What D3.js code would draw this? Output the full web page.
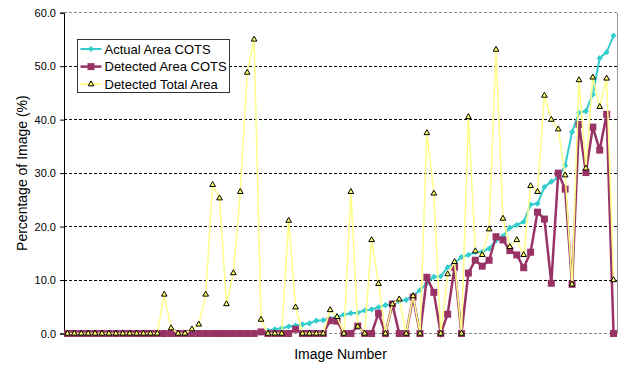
<!DOCTYPE html>
<html>
<head>
<meta charset="utf-8">
<script src="https://cdn.jsdelivr.net/npm/d3@7"></script>
<style>
  body { margin: 0; background: #fff; }
  text { font-family: "Liberation Sans", Arial, sans-serif; fill: #000; }
</style>
</head>
<body>
<div id="chart"></div>
<script>
// values, one per image (80 images)
const actualArea = [
    0, 0, 0, 0, 0, 0, 0, 0, 0, 0, 0, 0, 0, 0, 0, 0, 0, 0, 0, 0,
    0, 0, 0, 0, 0, 0, 0, 0, 0.2, 0.5, 0.8, 1.0, 1.3, 1.5, 1.7, 1.9, 2.4, 2.5, 2.8, 3.1,
    3.5, 3.8, 3.9, 4.3, 4.5, 4.9, 5.3, 5.5, 6.0, 6.3, 7.1, 8.1, 9.4, 10.6, 10.7, 12.4, 13.2, 14.3, 14.7, 15.2,
    15.3, 15.9, 17.4, 18.2, 19.8, 20.3, 20.9, 24.1, 24.3, 27.4, 28.4, 29.2, 31.4, 37.7, 41.3, 41.6, 44.7, 51.5, 52.6, 55.7
];
const detectedArea = [
    0, 0, 0, 0, 0, 0, 0, 0, 0, 0, 0, 0, 0, 0, 0, 0, 0, 0, 0, 0,
    0, 0, 0, 0, 0, 0, 0, 0, 0.3, 0, 0, 0, 0, 0.8, 0, 0, 0, 0, 2.4, 2.3,
    0, 0, 1.4, 0, 0, 3.8, 0, 5.5, 0, 0, 6.8, 0, 10.5, 7.7, 0, 3.6, 12.4, 0, 11.3, 13.7,
    12.6, 13.7, 18.1, 17.5, 15.5, 14.7, 12.3, 15.2, 22.7, 21.4, 9.4, 30.0, 27.0, 9.2, 39.1, 30.1, 38.6, 34.3, 41.0, 0
];
const detectedTotal = [
    0, 0, 0, 0, 0, 0, 0, 0, 0, 0, 0, 0, 0, 0, 7.3, 1.0, 0, 0, 0.8, 1.7,
    7.3, 27.8, 25.3, 5.5, 11.3, 26.5, 48.8, 55.0, 2.6, 0, 0, 0, 21.1, 4.9, 0, 0, 0, 0, 4.4, 3.1,
    0, 26.5, 1.3, 0, 17.5, 9.3, 0, 5.5, 6.4, 0, 7.0, 0, 37.5, 26.2, 0, 11.1, 13.4, 0, 40.5, 15.4,
    14.7, 19.5, 53.1, 21.5, 16.2, 17.5, 14.7, 27.6, 26.5, 44.5, 40.0, 38.2, 29.6, 9.2, 47.4, 30.9, 47.9, 42.4, 47.7, 10.0
];
const yTicks = [0, 10, 20, 30, 40, 50, 60];
const seriesNames = ["Actual Area COTS", "Detected Area COTS", "Detected Total Area"];

// set the dimensions of the picture and the plot area
const width = 627, height = 365;
const plot = { left: 64, right: 617, top: 12.7, bottom: 333.5 };

const svg = d3.select("#chart").append("svg")
    .attr("width", width)
    .attr("height", height);

// set the ranges
const x = d3.scaleBand()
    .domain(d3.range(detectedTotal.length))
    .range([plot.left, plot.right]);
const y = d3.scaleLinear()
    .domain([0, 60])
    .range([plot.bottom, plot.top]);
const cx = i => x(i) + x.bandwidth() / 2;

// gridlines
svg.append("g")
    .selectAll("line")
    .data(yTicks.filter(d => d > 0))
    .enter()
    .append("line")
    .attr("x1", plot.left)
    .attr("x2", plot.right)
    .attr("y1", d => y(d))
    .attr("y2", d => y(d))
    .attr("stroke", d => d === 60 ? "#888" : "#000")
    .attr("stroke-width", 1)
    .attr("stroke-dasharray", "3 2")
    .attr("shape-rendering", "crispEdges");

// right border and bottom line of the plot area
svg.append("line")
    .attr("x1", plot.right).attr("x2", plot.right)
    .attr("y1", plot.top).attr("y2", plot.bottom)
    .attr("stroke", "#999").attr("shape-rendering", "crispEdges");
svg.append("line")
    .attr("x1", plot.left).attr("x2", plot.right)
    .attr("y1", plot.bottom).attr("y2", plot.bottom)
    .attr("stroke", "#888").attr("stroke-dasharray", "3 2")
    .attr("shape-rendering", "crispEdges");

// Y axis
const yAxis = svg.append("g")
    .attr("transform", "translate(" + plot.left + ",0)")
    .call(d3.axisLeft(y).tickValues(yTicks).tickSize(4).tickPadding(4).tickFormat(d3.format(".1f")));
yAxis.select(".domain").attr("stroke", "#000");
yAxis.selectAll(".tick line").attr("stroke", "#000");
yAxis.selectAll("text")
    .style("font-family", "'Liberation Sans', Arial, sans-serif")
    .style("font-size", "11px")
    .attr("fill", "#000");

// lines
const line = d3.line().x((d, i) => cx(i)).y(d => y(d));

svg.append("path")
    .datum(actualArea)
    .attr("fill", "none")
    .attr("stroke", "#33CCCC")
    .attr("stroke-width", 2)
    .attr("d", line);
svg.append("g")
    .selectAll("path")
    .data(actualArea)
    .enter()
    .append("path")
    .attr("transform", (d, i) => "translate(" + cx(i) + "," + y(d) + ")")
    .attr("d", d3.symbol().type(d3.symbolDiamond2).size(24))
    .attr("fill", "#33CCCC");

svg.append("path")
    .datum(detectedArea)
    .attr("fill", "none")
    .attr("stroke", "#993366")
    .attr("stroke-width", 2.5)
    .attr("d", line);
svg.append("g")
    .selectAll("rect")
    .data(detectedArea)
    .enter()
    .append("rect")
    .attr("x", (d, i) => cx(i) - 3.5)
    .attr("y", d => y(d) - 3.5)
    .attr("width", 7)
    .attr("height", 7)
    .attr("fill", "#993366");

svg.append("path")
    .datum(detectedTotal)
    .attr("fill", "none")
    .attr("stroke", "#FFFF88")
    .attr("stroke-width", 1.5)
    .attr("d", line);
svg.append("g")
    .selectAll("path")
    .data(detectedTotal)
    .enter()
    .append("path")
    .attr("transform", (d, i) => "translate(" + cx(i) + "," + y(d) + ")")
    .attr("d", d3.symbol().type(d3.symbolTriangle).size(14))
    .attr("fill", "#FFFF66")
    .attr("stroke", "#000")
    .attr("stroke-width", 1);

// axis titles
svg.append("text")
    .attr("transform", "translate(27," + ((plot.top + plot.bottom) / 2) + ") rotate(-90)")
    .attr("text-anchor", "middle")
    .style("font-size", "14px")
    .text("Percentage of Image (%)");
svg.append("text")
    .attr("x", (plot.left + plot.right) / 2)
    .attr("y", 359)
    .attr("text-anchor", "middle")
    .style("font-size", "14px")
    .text("Image Number");

// legend
const legend = svg.append("g").attr("transform", "translate(77.5,39.5)");
legend.append("rect")
    .attr("width", 152)
    .attr("height", 53)
    .attr("fill", "#fff")
    .attr("stroke", "#333");
const rows = legend.selectAll(".lineLegend")
    .data(seriesNames)
    .enter()
    .append("g")
    .attr("class", "lineLegend")
    .attr("transform", (d, i) => "translate(0," + (9.5 + i * 17.6) + ")");
const legendColors = ["#33CCCC", "#993366", "#FFFF88"];
rows.append("line")
    .attr("x1", 3).attr("x2", 24)
    .attr("stroke", (d, i) => legendColors[i])
    .attr("stroke-width", (d, i) => i === 1 ? 2.5 : 2);
rows.filter((d, i) => i === 0).append("path")
    .attr("transform", "translate(13.5,0)")
    .attr("d", d3.symbol().type(d3.symbolDiamond2).size(24))
    .attr("fill", "#33CCCC");
rows.filter((d, i) => i === 1).append("rect")
    .attr("x", 10).attr("y", -3.5).attr("width", 7).attr("height", 7)
    .attr("fill", "#993366");
rows.filter((d, i) => i === 2).append("path")
    .attr("transform", "translate(13.5,0)")
    .attr("d", d3.symbol().type(d3.symbolTriangle).size(14))
    .attr("fill", "#FFFF66")
    .attr("stroke", "#000");
rows.append("text")
    .attr("x", 27)
    .attr("dy", "0.35em")
    .style("font-size", "13px")
    .text(d => d);
</script>
</body>
</html>
